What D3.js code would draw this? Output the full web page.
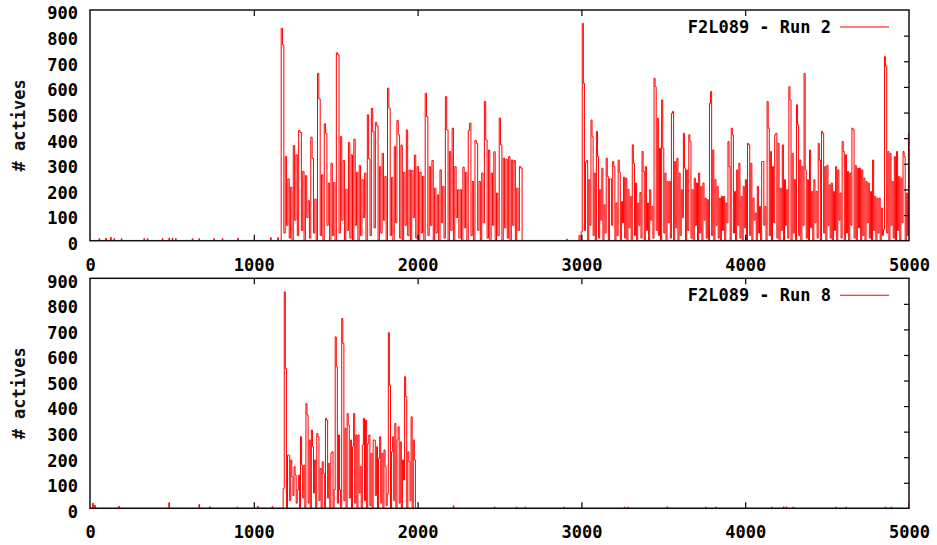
<!DOCTYPE html>
<html>
<head>
<meta charset="utf-8">
<script src="https://cdn.jsdelivr.net/npm/d3@7"></script>
<style>
  body { margin: 0; background: #fff; }
  svg { display: block; }
  .tick text { font-family: "DejaVu Sans Mono", monospace; font-weight: bold; font-size: 17px; fill: #000; }
  .ylabel { font-family: "DejaVu Sans Mono", monospace; font-weight: bold; font-size: 17px; fill: #111; }
  .legend { font-family: "DejaVu Sans Mono", monospace; font-weight: bold; font-size: 17px; fill: #000; }
</style>
</head>
<body>
<div id="chart"></div>
<script>
// DATA
const xTicks = [0, 1000, 2000, 3000, 4000, 5000];
const yTicks = [0, 100, 200, 300, 400, 500, 600, 700, 800, 900];
const runNames = ["F2L089 - Run 2", "F2L089 - Run 8"];

// isolated small counts outside the bursts : [step, actives]
const run2Blips = [[57, 8], [98, 10], [128, 13], [148, 8], [193, 8], [331, 8], [352, 8], [443, 8],
  [484, 10], [504, 10], [524, 8], [626, 8], [667, 8], [758, 8], [809, 8], [904, 10], [1104, 12],
  [1148, 12], [2912, 6]];
const run8Blips = [[18, 20], [30, 12], [177, 8], [483, 22], [667, 15], [732, 6], [900, 5], [1025, 8],
  [1114, 7], [2220, 10], [2470, 5], [2604, 5], [2658, 5], [2895, 5], [3264, 5], [3285, 5], [3524, 6],
  [3759, 5], [3822, 5], [4162, 5], [4235, 6], [4252, 6], [4293, 5], [4553, 5], [4617, 5], [4857, 5],
  [4893, 5], [5000, 20]];

// bursts : first step, last step, then the sampled counts (evenly spaced)
const run2BurstARange = [1163, 2642];
const run2BurstA = [0, 829, 764, 30, 328, 60, 241, 10, 209, 0, 371, 80, 335, 20, 430, 422, 40, 270, 0, 254,
  90, 156, 10, 404, 321, 30, 162, 0, 653, 553, 20, 257, 0, 456, 419, 60, 225, 0, 302, 20, 227, 0, 733, 725,
  30, 406, 80, 313, 0, 201, 40, 383, 10, 335, 0, 396, 60, 267, 0, 293, 20, 238, 90, 264, 0, 491, 319, 20,
  517, 425, 50, 462, 448, 0, 289, 30, 341, 80, 251, 0, 595, 517, 20, 247, 0, 367, 70, 469, 413, 10, 373, 0,
  267, 60, 432, 20, 276, 0, 274, 90, 334, 10, 289, 0, 267, 30, 251, 0, 575, 484, 20, 289, 60, 313, 0, 205,
  30, 179, 0, 276, 70, 212, 10, 562, 432, 0, 348, 40, 439, 0, 289, 90, 199, 10, 199, 0, 287, 50, 267, 0,
  429, 459, 20, 231, 0, 391, 380, 40, 231, 0, 264, 70, 543, 393, 10, 354, 0, 264, 60, 347, 0, 186, 20, 478,
  374, 0, 322, 50, 318, 10, 328, 0, 315, 60, 313, 0, 205, 40, 289, 283, 0];

const run2BurstBRange = [2982, 5000];
const run2BurstB = [0, 20, 0, 35, 848, 614, 40, 306, 313, 0, 238, 60, 471, 406, 20, 264, 0, 426, 328, 10,
  199, 80, 283, 0, 140, 30, 322, 251, 0, 241, 241, 60, 309, 289, 0, 147, 20, 315, 267, 0, 153, 70, 248, 10,
  244, 0, 201, 50, 173, 0, 374, 302, 20, 225, 0, 147, 60, 188, 10, 348, 270, 0, 289, 40, 147, 0, 199, 80,
  134, 10, 634, 601, 40, 478, 20, 361, 0, 549, 361, 30, 264, 0, 231, 70, 231, 10, 497, 504, 0, 309, 50, 322,
  0, 264, 20, 199, 90, 419, 283, 0, 276, 40, 413, 387, 10, 199, 0, 244, 60, 225, 0, 264, 30, 212, 0, 225,
  80, 166, 10, 160, 0, 536, 582, 20, 354, 0, 238, 60, 212, 10, 166, 0, 173, 40, 173, 0, 147, 70, 387, 289,
  0, 439, 413, 30, 192, 0, 276, 60, 302, 10, 173, 0, 212, 50, 238, 0, 380, 374, 20, 302, 0, 166, 80, 108,
  0, 212, 30, 134, 0, 309, 309, 60, 134, 0, 543, 439, 20, 348, 0, 289, 70, 413, 419, 10, 380, 0, 205, 40,
  374, 0, 238, 60, 199, 10, 601, 549, 0, 341, 30, 238, 0, 530, 452, 20, 315, 0, 289, 60, 653, 276, 10, 238,
  0, 354, 50, 192, 0, 238, 70, 192, 10, 380, 315, 0, 426, 419, 30, 289, 0, 294, 60, 218, 10, 225, 0, 192,
  40, 289, 0, 276, 80, 186, 10, 387, 348, 0, 335, 30, 270, 0, 264, 60, 439, 432, 10, 294, 0, 283, 50, 283,
  0, 276, 20, 244, 0, 231, 70, 225, 10, 192, 0, 315, 40, 173, 0, 166, 30, 166, 0, 127, 20, 43, 718, 679,
  30, 348, 0, 341, 60, 231, 10, 328, 0, 348, 40, 251, 0, 244, 70, 348, 328, 0, 186, 20, 419];

const run8BurstRange = [1176, 1990];
const run8Burst = [0, 78, 847, 547, 0, 208, 208, 30, 189, 124, 50, 163, 130, 20, 72, 130, 0, 280, 169, 40,
  169, 0, 410, 365, 20, 267, 0, 306, 241, 60, 189, 0, 293, 280, 30, 156, 0, 182, 137, 0, 352, 345, 40, 176,
  0, 215, 221, 0, 72, 671, 554, 20, 287, 72, 0, 743, 645, 30, 313, 0, 371, 326, 40, 267, 0, 241, 371, 20,
  287, 0, 287, 60, 163, 0, 248, 352, 30, 345, 0, 254, 287, 10, 215, 0, 267, 267, 50, 241, 0, 195, 280, 20,
  215, 0, 228, 163, 10, 58, 687, 482, 0, 221, 280, 30, 332, 0, 267, 319, 20, 260, 0, 189, 111, 515, 437, 0,
  221, 182, 30, 358, 0, 267, 189, 0];

// CONFIGURATION
const width = 937, height = 545;
const panels = [
  { top: 10, bottom: 240.7, name: runNames[0], blips: run2Blips,
    bursts: [[run2BurstARange, run2BurstA], [run2BurstBRange, run2BurstB]] },
  { top: 278.3, bottom: 508.3, name: runNames[1], blips: run8Blips,
    bursts: [[run8BurstRange, run8Burst]] }
];
const left = 90, right = 909;
const RED = "#ff0000";

const svg = d3.select("#chart").append("svg")
  .attr("width", width)
  .attr("height", height);

const x = d3.scaleLinear().domain([0, 5000]).range([left, right]);

// builds the full [step, count] list for one run
function buildSeries(blips, bursts) {
  const pts = [[0, 0]];
  blips.forEach(([s, v]) => pts.push([s - 4, 0], [s, v], [s + 4, 0]));
  bursts.forEach(([range, vals]) => {
    const dt = (range[1] - range[0]) / (vals.length - 1);
    vals.forEach((v, i) => pts.push([range[0] + i * dt, v]));
  });
  pts.sort((a, b) => a[0] - b[0]);
  if (pts[pts.length - 1][0] < 5000) pts.push([5000, 0]);
  return pts;
}

panels.forEach((p, k) => {
  const y = d3.scaleLinear().domain([0, 900]).range([p.bottom, p.top]);
  const g = svg.append("g");

  // clip
  g.append("clipPath").attr("id", "clip" + k)
    .append("rect")
    .attr("x", left).attr("y", p.top)
    .attr("width", right - left).attr("height", p.bottom - p.top);

  // data line (step so the spikes stay vertical like the original)
  const line = d3.line().curve(d3.curveStep).x(d => x(d[0])).y(d => y(d[1]));
  g.append("path")
    .datum(buildSeries(p.blips, p.bursts))
    .attr("clip-path", `url(#clip${k})`)
    .attr("fill", "none")
    .attr("stroke", RED)
    .attr("stroke-width", 1)
    .attr("d", line);

  // axes (ticks inside, mirrored)
  const fmt = d3.format("d");
  const axB = g.append("g").attr("transform", `translate(0,${p.bottom})`)
    .call(d3.axisBottom(x).tickValues(xTicks).tickFormat(fmt).tickSizeInner(-6).tickSizeOuter(0).tickPadding(18));
  const axT = g.append("g").attr("transform", `translate(0,${p.top})`)
    .call(d3.axisTop(x).tickValues(xTicks).tickSizeInner(-6).tickSizeOuter(0).tickFormat(""));
  const axL = g.append("g").attr("transform", `translate(${left},0)`)
    .call(d3.axisLeft(y).tickValues(yTicks).tickFormat(fmt).tickSizeInner(0).tickSizeOuter(0).tickPadding(12));
  const axR = g.append("g").attr("transform", `translate(${right},0)`)
    .call(d3.axisRight(y).tickValues(yTicks).tickSizeInner(-5).tickSizeOuter(0).tickFormat(""));

  [axB, axT, axL, axR].forEach(a => {
    a.select(".domain").remove();
    a.selectAll(".tick line").attr("stroke", "#000").attr("stroke-width", 1.2);
  });
  axL.selectAll(".tick text").attr("dy", "0.52em");
  // hide end ticks that sit on the frame corners
  axB.selectAll(".tick line").filter(d => d === 0 || d === 5000).remove();
  axT.selectAll(".tick line").filter(d => d === 0 || d === 5000).remove();
  axR.selectAll(".tick line").filter(d => d === 0 || d === 900).remove();

  // frame
  g.append("rect")
    .attr("x", left).attr("y", p.top)
    .attr("width", right - left).attr("height", p.bottom - p.top)
    .attr("fill", "none")
    .attr("stroke", "#111")
    .attr("stroke-width", 1.5);

  // y label
  g.append("text")
    .attr("class", "ylabel")
    .attr("transform", `translate(25,${(p.top + p.bottom) / 2}) rotate(-90)`)
    .attr("text-anchor", "middle")
    .text("# actives");

  // legend
  g.append("text")
    .attr("class", "legend")
    .attr("x", 831).attr("y", p.top + 23)
    .attr("text-anchor", "end")
    .text(p.name);
  g.append("line")
    .attr("x1", 840).attr("x2", 889)
    .attr("y1", p.top + 17).attr("y2", p.top + 17)
    .attr("stroke", RED).attr("stroke-width", 1.1);
});
</script>
</body>
</html>
